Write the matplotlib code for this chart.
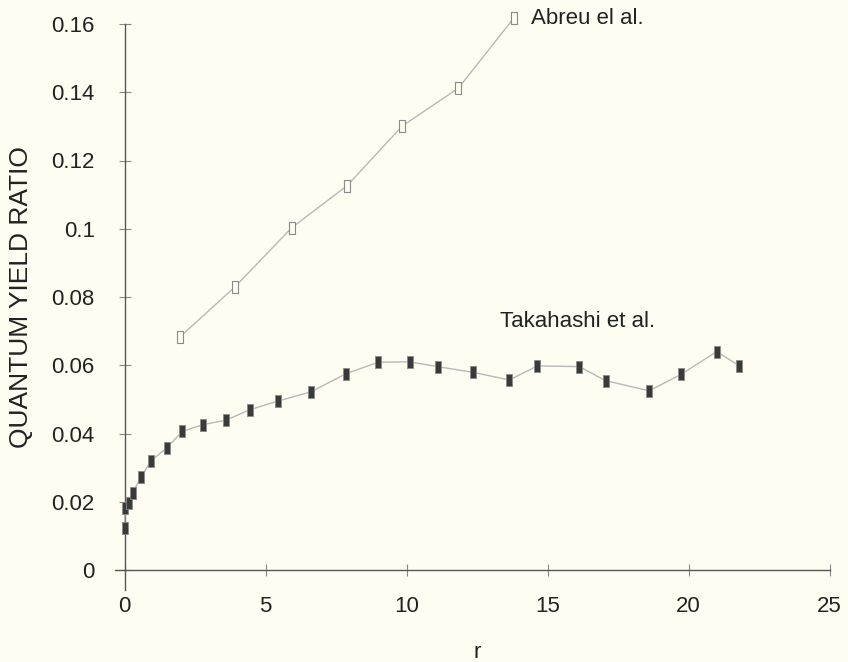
import matplotlib
matplotlib.use("Agg")
import matplotlib.pyplot as plt
from matplotlib.path import Path

plt.rcParams['font.family'] = ['Liberation Sans', 'DejaVu Sans']

# Takahashi et al. (filled markers)
takahashi_r = [0.0, 0.02, 0.17, 0.29, 0.59, 0.94, 1.5, 2.05, 2.78, 3.6, 4.45, 5.44,
               6.61, 7.85, 9.0, 10.12, 11.1, 12.37, 13.65, 14.64, 16.13, 17.06,
               18.6, 19.73, 21.0, 21.79]
takahashi_q = [0.0124, 0.0181, 0.0197, 0.0227, 0.0273, 0.032, 0.0358, 0.0406,
               0.0426, 0.0439, 0.047, 0.0495, 0.0522, 0.0575, 0.0609, 0.061,
               0.0596, 0.0579, 0.0557, 0.0598, 0.0596, 0.0555, 0.0525, 0.0573,
               0.064, 0.0599]

# Abreu el al. (open markers)
abreu_r = [1.98, 3.92, 5.93, 7.89, 9.85, 11.84, 13.8]
abreu_q = [0.0684, 0.083, 0.1003, 0.1126, 0.1301, 0.1412, 0.1617]

x_ticks = [0, 5, 10, 15, 20, 25]
y_ticks = [0, 0.02, 0.04, 0.06, 0.08, 0.1, 0.12, 0.14, 0.16]
y_tick_labels = ['0', '0.02', '0.04', '0.06', '0.08', '0.1', '0.12', '0.14', '0.16']

bg = '#fffdf1'
rect = Path([(-0.55, -1), (0.55, -1), (0.55, 1), (-0.55, 1), (-0.55, -1)],
            [Path.MOVETO, Path.LINETO, Path.LINETO, Path.LINETO, Path.CLOSEPOLY])

fig = plt.figure(figsize=(8.48, 6.62), dpi=100, facecolor=bg)
ax = fig.add_axes([124.5 / 848, 1 - 570 / 662, (829.5 - 124.5) / 848, (570 - 24) / 662])
ax.set_facecolor(bg)

ax.plot(takahashi_r, takahashi_q, color='#b8b8b8', lw=1.0, marker=rect,
        markersize=9, markerfacecolor='#3a3a3a', markeredgecolor='#8a8a8a',
        markeredgewidth=0.6, clip_on=False, zorder=3)
ax.plot(abreu_r, abreu_q, color='#b8b8b8', lw=1.0, marker=rect,
        markersize=9, markerfacecolor=bg, markeredgecolor='#8a8a8a',
        markeredgewidth=0.8, clip_on=False, zorder=3)

ax.set_xlim(0, 25)
ax.set_ylim(0, 0.16)
ax.set_xticks(x_ticks)
ax.set_yticks(y_ticks)
ax.set_yticklabels(y_tick_labels)

for s in ['top', 'right']:
    ax.spines[s].set_visible(False)
for s in ['left', 'bottom']:
    ax.spines[s].set_color('#555555')
    ax.spines[s].set_linewidth(1.0)
ax.spines['left'].set_bounds(-0.006, 0.16)
ax.spines['bottom'].set_bounds(-0.35, 25)

ax.tick_params(axis='both', direction='inout', length=9, width=0.8,
               color='#888888', labelsize=16, labelcolor='#222222')
ax.tick_params(axis='y', pad=17)
ax.tick_params(axis='x', pad=14)

ax.set_xlabel('r', fontsize=16, color='#222222', labelpad=18)
ax.set_ylabel('QUANTUM YIELD RATIO', fontsize=19, color='#222222', labelpad=13)

ax.text(14.4, 0.1617, 'Abreu el al.', fontsize=16, color='#222222',
        va='center', ha='left')
ax.text(13.3, 0.0727, 'Takahashi et al.', fontsize=16, color='#222222',
        va='center', ha='left')

fig.savefig('out.png', dpi=100, facecolor=bg)
